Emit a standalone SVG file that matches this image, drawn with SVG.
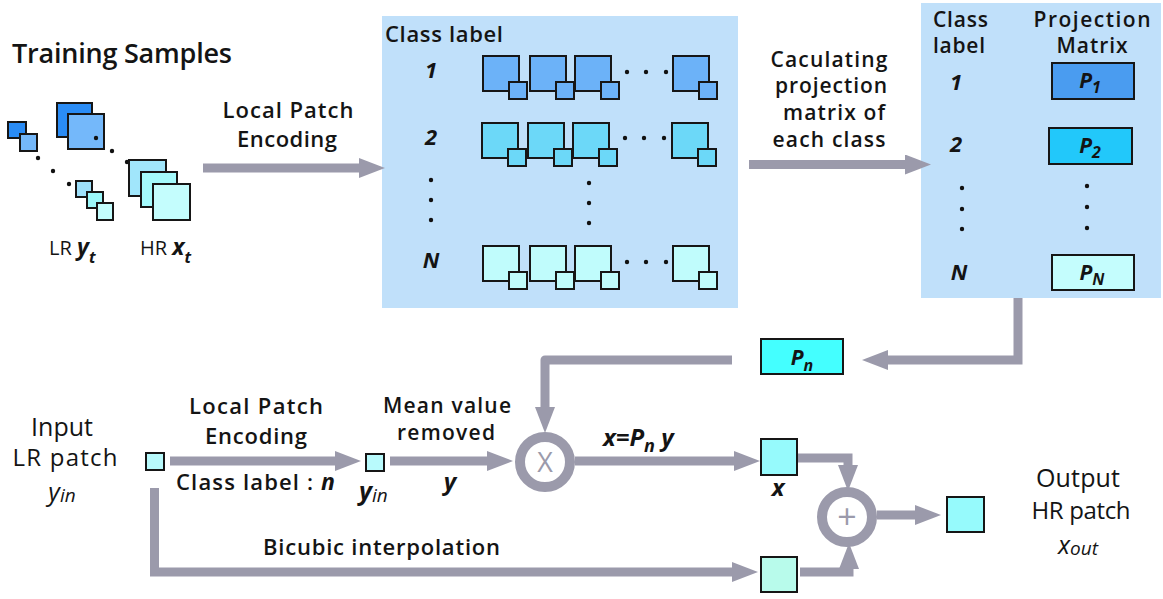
<svg xmlns="http://www.w3.org/2000/svg" xmlns:xlink="http://www.w3.org/1999/xlink" width="1163" height="599" viewBox="0 0 1163 599">
  <style>
    .t { font-family: "Open Sans", "Liberation Sans", sans-serif; font-weight: 600; fill: #141414; }
    .r { font-family: "Open Sans", "Liberation Sans", sans-serif; font-weight: 400; fill: #141414; }
    .m { font-family: "Open Sans", "Liberation Sans", sans-serif; font-style: italic; font-weight: 700; fill: #141414; }
    .mi { font-family: "Open Sans", "Liberation Sans", sans-serif; font-style: italic; font-weight: 400; fill: #141414; }
    .panel { fill: #c0e0fa; }
    .box { stroke: #161616; stroke-width: 2; }
    .dot { fill: #111; }
    .flow { fill: none; stroke: #9b9aab; stroke-width: 9; marker-end: url(#head); }
    .op { fill: #fff; stroke: #9b9aab; stroke-width: 10; }
    .opt { font-family: "Open Sans", "Liberation Sans", sans-serif; font-weight: 400; fill: #9b9aab; }
  </style>
  <defs>
    <marker id="head" viewBox="0 0 26 20" markerWidth="26" markerHeight="20" refX="1" refY="10" orient="auto" markerUnits="userSpaceOnUse">
      <path d="M0,0 L26,10 L0,20 z" fill="#9b9aab"/>
    </marker>
    <!-- HR patch with its LR patch attached at the lower right corner -->
    <g id="patch" stroke="#161616" stroke-width="2">
      <rect x="0" y="0" width="36" height="35"/>
      <rect x="26" y="26" width="18" height="17"/>
    </g>
  </defs>

  <!-- training samples -->
  <g id="training">
    <text class="t" x="12" y="63" font-size="27" textLength="220">Training Samples</text>
    <rect class="box" x="8" y="122" width="18" height="16" fill="#2a8cf5"/>
    <rect class="box" x="20" y="134" width="17" height="17" fill="#74b8fa"/>
    <rect class="box" x="57" y="103" width="35" height="34" fill="#2a8cf5"/>
    <rect class="box" x="68" y="114" width="36" height="35" fill="#74b8fa"/>
    <circle class="dot" cx="96" cy="138" r="2.2"/>
    <circle class="dot" cx="112" cy="151" r="2.2"/>
    <circle class="dot" cx="127" cy="162" r="2.2"/>
    <circle class="dot" cx="38" cy="158" r="2.2"/>
    <circle class="dot" cx="53" cy="171" r="2.2"/>
    <circle class="dot" cx="69" cy="184" r="2.2"/>
    <rect class="box" x="76" y="181" width="16" height="16" fill="#9ee0fa"/>
    <rect class="box" x="87" y="192" width="16" height="16" fill="#9cf8fa"/>
    <rect class="box" x="97" y="203" width="16" height="17" fill="#c3fdfd"/>
    <rect class="box" x="129" y="160" width="37" height="36" fill="#a1e6fb"/>
    <rect class="box" x="141" y="172" width="36" height="35" fill="#a4fafc"/>
    <rect class="box" x="153" y="184" width="37" height="36" fill="#c4fdfd"/>
    <text class="r" x="49" y="255" font-size="20">LR <tspan class="m" font-size="23">y</tspan><tspan class="m" font-size="16" dy="8">t</tspan></text>
    <text class="r" x="140" y="255" font-size="20">HR <tspan class="m" font-size="23">x</tspan><tspan class="m" font-size="16" dy="8">t</tspan></text>
  </g>

  <!-- class-wise patch sets -->
  <g id="class-patches">
    <rect class="panel" x="382" y="16" width="356" height="292"/>
    <text class="t" x="385" y="42" font-size="22" textLength="118">Class label</text>
    <text class="m" x="431" y="78" font-size="22" text-anchor="middle">1</text>
    <text class="m" x="431" y="145" font-size="22" text-anchor="middle">2</text>
    <text class="m" x="431" y="268" font-size="22" text-anchor="middle">N</text>
    <circle class="dot" cx="431" cy="180" r="2.2"/>
    <circle class="dot" cx="431" cy="200" r="2.2"/>
    <circle class="dot" cx="431" cy="220" r="2.2"/>
    <g fill="#6cb2f8">
      <use xlink:href="#patch" x="483" y="56"/>
      <use xlink:href="#patch" x="530" y="56"/>
      <use xlink:href="#patch" x="575" y="56"/>
      <use xlink:href="#patch" x="673" y="56"/>
    </g>
    <g fill="#6cd8f8">
      <use xlink:href="#patch" x="482" y="123"/>
      <use xlink:href="#patch" x="528" y="123"/>
      <use xlink:href="#patch" x="573" y="123"/>
      <use xlink:href="#patch" x="672" y="123"/>
    </g>
    <g fill="#c0fcfc">
      <use xlink:href="#patch" x="483" y="246"/>
      <use xlink:href="#patch" x="530" y="246"/>
      <use xlink:href="#patch" x="575" y="246"/>
      <use xlink:href="#patch" x="673" y="246"/>
    </g>
    <circle class="dot" cx="627" cy="72" r="2.2"/>
    <circle class="dot" cx="646" cy="72" r="2.2"/>
    <circle class="dot" cx="666" cy="72" r="2.2"/>
    <circle class="dot" cx="625" cy="138" r="2.2"/>
    <circle class="dot" cx="644" cy="138" r="2.2"/>
    <circle class="dot" cx="664" cy="138" r="2.2"/>
    <circle class="dot" cx="627" cy="262" r="2.2"/>
    <circle class="dot" cx="646" cy="262" r="2.2"/>
    <circle class="dot" cx="666" cy="262" r="2.2"/>
    <circle class="dot" cx="589" cy="183" r="2.2"/>
    <circle class="dot" cx="589" cy="203" r="2.2"/>
    <circle class="dot" cx="589" cy="223" r="2.2"/>
  </g>

  <!-- projection matrices per class -->
  <g id="projections">
    <rect class="panel" x="921" y="3" width="240" height="295"/>
    <text class="t" x="933" y="27" font-size="21" textLength="55">Class</text>
    <text class="t" x="933" y="53" font-size="21" textLength="52">label</text>
    <text class="t" x="1092" y="27" font-size="21" text-anchor="middle" textLength="117">Projection</text>
    <text class="t" x="1092" y="53" font-size="21" text-anchor="middle" textLength="71">Matrix</text>
    <text class="m" x="956" y="90" font-size="22" text-anchor="middle">1</text>
    <text class="m" x="956" y="152" font-size="22" text-anchor="middle">2</text>
    <text class="m" x="959" y="280" font-size="22" text-anchor="middle">N</text>
    <circle class="dot" cx="962" cy="188" r="2.2"/>
    <circle class="dot" cx="962" cy="209" r="2.2"/>
    <circle class="dot" cx="962" cy="229" r="2.2"/>
    <circle class="dot" cx="1087" cy="186" r="2.2"/>
    <circle class="dot" cx="1087" cy="207" r="2.2"/>
    <circle class="dot" cx="1087" cy="228" r="2.2"/>
    <rect class="box" x="1052" y="63" width="82" height="36" fill="#4a9cf0"/>
    <rect class="box" x="1049" y="128" width="83" height="36" fill="#22c8fa"/>
    <rect class="box" x="1052" y="255" width="82" height="35" fill="#c4fdfd"/>
    <text class="m" x="1090" y="88" font-size="21" text-anchor="middle">P<tspan font-size="16" dy="5">1</tspan></text>
    <text class="m" x="1090" y="153" font-size="21" text-anchor="middle">P<tspan font-size="16" dy="5">2</tspan></text>
    <text class="m" x="1092" y="280" font-size="21" text-anchor="middle">P<tspan font-size="16" dy="5">N</tspan></text>
  </g>

  <!-- selected projection matrix -->
  <g id="pn">
    <rect class="box" x="761" y="339" width="82" height="35" fill="#44ffff"/>
    <text class="m" x="802" y="365" font-size="21" text-anchor="middle">P<tspan font-size="16" dy="6">n</tspan></text>
  </g>

  <!-- input patch -->
  <g id="input">
    <text class="r" x="62" y="436" font-size="25" text-anchor="middle">Input</text>
    <text class="r" x="65" y="466" font-size="24" text-anchor="middle" textLength="105">LR patch</text>
    <text class="mi" x="62" y="501" font-size="25" text-anchor="middle">y<tspan font-size="19" dy="1">in</tspan></text>
    <rect class="box" x="146" y="453" width="18" height="17" fill="#b8fafc"/>
  </g>

  <!-- encoded input patch -->
  <g id="yin">
    <rect class="box" x="366" y="454" width="18" height="17" fill="#b8fafc"/>
    <text class="m" x="359" y="500" font-size="25">y<tspan class="mi" font-size="19" dy="2">in</tspan></text>
  </g>

  <!-- multiplication -->
  <g id="multiply">
    <circle class="op" cx="545" cy="462" r="25"/>
    <text class="opt" x="545" y="472" font-size="27" text-anchor="middle">X</text>
  </g>

  <!-- estimated detail patch -->
  <g id="x-patch">
    <rect class="box" x="761" y="439" width="36" height="36" fill="#96fafc"/>
    <text class="m" x="778" y="496" font-size="24" text-anchor="middle">x</text>
  </g>

  <!-- interpolated patch -->
  <g id="bicubic-patch">
    <rect class="box" x="761" y="557" width="36" height="35" fill="#b8fbeb"/>
  </g>

  <!-- summation -->
  <g id="sum">
    <circle class="op" cx="847" cy="517" r="25"/>
    <text class="opt" x="847" y="529" font-size="34" text-anchor="middle">+</text>
  </g>

  <!-- output patch -->
  <g id="output">
    <rect class="box" x="947" y="497" width="37" height="35" fill="#96fafc"/>
    <text class="r" x="1078" y="487" font-size="25" text-anchor="middle" textLength="84">Output</text>
    <text class="r" x="1081" y="519" font-size="24" text-anchor="middle" textLength="99">HR patch</text>
    <text class="mi" x="1078" y="554" font-size="25" text-anchor="middle">x<tspan font-size="19" dy="1">out</tspan></text>
  </g>

  <!-- connectors -->
  <g id="connectors">
    <path class="flow" d="M203,168 H360"/>
    <path class="flow" d="M749,164.5 H906"/>
    <path class="flow" d="M1018,298 V360 H887" stroke-linejoin="miter"/>
    <path class="flow" d="M732,360 H545 V408" stroke-linejoin="round"/>
    <path class="flow" d="M170,461 H336"/>
    <path class="flow" d="M390,461 H488"/>
    <path class="flow" d="M575,461 H735"/>
    <path class="flow" d="M798,458 H848 V466"/>
    <path class="flow" d="M800,572 H849 V568"/>
    <path class="flow" d="M877,515 H916"/>
    <path class="flow" d="M154.5,488 V572 H733"/>
  </g>

  <!-- connector labels -->
  <g id="labels">
    <text class="t" x="288" y="118" font-size="22" text-anchor="middle" textLength="131">Local  Patch</text>
    <text class="t" x="287" y="147" font-size="22" text-anchor="middle" textLength="100">Encoding</text>
    <text class="t" x="829" y="67" font-size="21" text-anchor="middle" textLength="117">Caculating</text>
    <text class="t" x="831" y="93" font-size="21" text-anchor="middle" textLength="112">projection</text>
    <text class="t" x="834" y="120" font-size="21" text-anchor="middle" textLength="102">matrix of</text>
    <text class="t" x="829" y="147" font-size="21" text-anchor="middle" textLength="113">each class</text>
    <text class="t" x="256" y="414" font-size="22" text-anchor="middle" textLength="134">Local  Patch</text>
    <text class="t" x="256" y="444" font-size="22" text-anchor="middle" textLength="102">Encoding</text>
    <text class="t" x="176" y="490" font-size="22" textLength="159">Class label : <tspan class="m" font-size="23">n</tspan></text>
    <text class="t" x="447" y="413" font-size="21" text-anchor="middle" textLength="128">Mean value</text>
    <text class="t" x="446" y="440" font-size="21" text-anchor="middle" textLength="98">removed</text>
    <text class="m" x="450" y="490" font-size="24" text-anchor="middle">y</text>
    <text class="m" x="603" y="446" font-size="24">x=P<tspan font-size="18" dy="6">n</tspan><tspan dy="-6"> y</tspan></text>
    <text class="t" x="263" y="555" font-size="22" textLength="237">Bicubic interpolation</text>
  </g>
</svg>
